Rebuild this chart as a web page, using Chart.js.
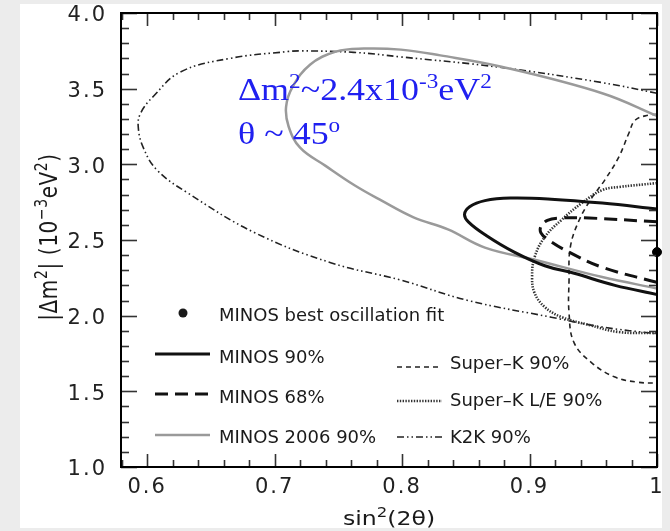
<!DOCTYPE html>
<html>
<head>
<meta charset="utf-8">
<title>MINOS allowed regions</title>
<script src="https://cdn.jsdelivr.net/npm/chart.js@4.4.1/dist/chart.umd.min.js"></script>
<style>
  body { margin: 0; background: #ececec; }
  canvas { display: block; }
</style>
</head>
<body>
<canvas id="chart" width="670" height="531"></canvas>
<script>
// contour points: x = sin^2(2theta), y = |dm^2| in 1e-3 eV^2
const k2kX = [1.0, 0.957, 0.878, 0.799, 0.762, 0.72, 0.71, 0.665, 0.626, 0.605, 0.595, 0.593, 0.597, 0.608, 0.632, 0.684, 0.744, 0.799, 0.852, 0.917, 0.957, 1.0];
const k2kY = [3.47, 3.54, 3.64, 3.71, 3.74, 3.75, 3.745, 3.70, 3.61, 3.45, 3.34, 3.25, 3.11, 2.96, 2.81, 2.55, 2.35, 2.235, 2.10, 1.99, 1.925, 1.88];

const minos2006X = [1.0, 0.957, 0.878, 0.83, 0.799, 0.77, 0.748, 0.728, 0.714, 0.709, 0.711, 0.72, 0.74, 0.763, 0.784, 0.809, 0.836, 0.865, 0.904, 0.957, 1.0];
const minos2006Y = [3.32, 3.47, 3.645, 3.72, 3.758, 3.765, 3.745, 3.66, 3.51, 3.38, 3.25, 3.11, 2.99, 2.86, 2.76, 2.65, 2.57, 2.45, 2.37, 2.255, 2.18];

const minos90X = [1.0, 0.957, 0.917, 0.885, 0.865, 0.853, 0.849, 0.852, 0.866, 0.888, 0.912, 0.935, 0.967, 1.0];
const minos90Y = [2.705, 2.744, 2.77, 2.777, 2.76, 2.72, 2.67, 2.62, 2.53, 2.42, 2.33, 2.28, 2.20, 2.14];

const minos68X = [1.0, 0.947, 0.923, 0.914, 0.909, 0.909, 0.915, 0.931, 0.957, 1.0];
const minos68Y = [2.62, 2.645, 2.645, 2.63, 2.59, 2.546, 2.50, 2.42, 2.32, 2.22];

const superKX = [1.0, 0.994, 0.983, 0.978, 0.970, 0.959, 0.949, 0.939, 0.932, 0.931, 0.931, 0.935, 0.949, 0.967, 0.985, 1.0];
const superKY = [3.33, 3.326, 3.293, 3.207, 3.048, 2.896, 2.78, 2.632, 2.453, 2.235, 2.017, 1.82, 1.687, 1.594, 1.56, 1.554];

const superKLEX = [1.0, 0.970, 0.957, 0.941, 0.925, 0.912, 0.904, 0.902, 0.904, 0.912, 0.925, 0.947, 0.970, 1.0];
const superKLEY = [2.876, 2.85, 2.83, 2.744, 2.632, 2.52, 2.387, 2.255, 2.149, 2.057, 1.991, 1.938, 1.892, 1.885];

const bestFitX = [1.0];
const bestFitY = [2.42];

const xTickVals = [0.6, 0.7, 0.8, 0.9, 1.0];
const xTickLabels = ['0.6', '0.7', '0.8', '0.9', '1'];
const yTickVals = [1.0, 1.5, 2.0, 2.5, 3.0, 3.5, 4.0];
const yTickLabels = ['1.0', '1.5', '2.0', '2.5', '3.0', '3.5', '4.0'];

const toPoints = (xs, ys) => xs.map((x, i) => ({ x, y: ys[i] }));

/**
 * contour dataset, drawn as a smooth line with no points
 */
const contour = (label, xs, ys, color, width, dash) => ({
  label,
  data: toPoints(xs, ys),
  showLine: true,
  borderColor: color,
  borderWidth: width,
  borderDash: dash,
  pointRadius: 0,
  tension: 0.4,
  fill: false
});

// first dataset is drawn on top
const datasets = [
  {
    label: 'MINOS best oscillation fit',
    data: toPoints(bestFitX, bestFitY),
    pointRadius: 4.5,
    backgroundColor: '#000',
    borderColor: '#000',
    clip: false
  },
  contour('MINOS 68%', minos68X, minos68Y, '#111', 3, [13, 7]),
  contour('MINOS 90%', minos90X, minos90Y, '#111', 3, []),
  contour('MINOS 2006 90%', minos2006X, minos2006Y, '#9a9a9a', 2.5, []),
  contour('Super\u2013K 90%', superKX, superKY, '#222', 1.6, [5, 4]),
  contour('Super\u2013K L/E 90%', superKLEX, superKLEY, '#333', 2.6, [1.4, 1.4]),
  contour('K2K 90%', k2kX, k2kY, '#222', 1.6, [7, 3, 1.5, 3, 1.5, 3])
];

// legend slots inside the frame: [dataset label, sample x0, sample x1, line y, text x, text baseline]
const legendSlots = [
  ['MINOS 90%', 155, 210, 354, 219, 363],
  ['MINOS 68%', 155, 210, 394, 219, 403],
  ['MINOS 2006 90%', 155, 210, 435, 219, 443],
  ['Super\u2013K 90%', 397, 442, 367, 450, 369],
  ['Super\u2013K L/E 90%', 397, 442, 401, 450, 406],
  ['K2K 90%', 397, 442, 437, 450, 443]
];

const measureRuns = (ctx, runs, fonts) =>
  runs.reduce((w, [text, sup]) => {
    ctx.font = sup ? fonts.sup : fonts.main;
    return w + ctx.measureText(text).width;
  }, 0);

// draws text runs with superscripts, starting at (0, 0) on the baseline
const drawRuns = (ctx, runs, fonts, rise) => {
  let cx = 0;
  runs.forEach(([text, sup]) => {
    ctx.font = sup ? fonts.sup : fonts.main;
    ctx.fillText(text, cx, sup ? -rise : 0);
    cx += ctx.measureText(text).width;
  });
};

// inward tick marks on all four sides of the frame
const drawFrameTicks = (ctx, area, xScale, yScale) => {
  ctx.save();
  ctx.setLineDash([]);
  ctx.strokeStyle = '#333333';
  ctx.lineWidth = 1.6;
  for (let k = 29; k <= 50; k++) {
    const px = Math.round(xScale.getPixelForValue(k / 50)) + 0.5;
    const len = k % 5 === 0 ? 13 : 7;
    ctx.beginPath();
    ctx.moveTo(px, area.bottom);
    ctx.lineTo(px, area.bottom - len);
    ctx.stroke();
    ctx.beginPath();
    ctx.moveTo(px, area.top);
    ctx.lineTo(px, area.top + len);
    ctx.stroke();
  }
  for (let k = 10; k <= 40; k++) {
    const py = Math.round(yScale.getPixelForValue(k / 10)) + 0.5;
    const len = k % 5 === 0 ? 16 : 8;
    ctx.beginPath();
    ctx.moveTo(area.left, py);
    ctx.lineTo(area.left + len, py);
    ctx.stroke();
    ctx.beginPath();
    ctx.moveTo(area.right, py);
    ctx.lineTo(area.right - len, py);
    ctx.stroke();
  }
  ctx.restore();
};

const decorations = {
  id: 'decorations',
  beforeDraw(chart) {
    const { ctx } = chart;
    ctx.save();
    ctx.fillStyle = '#ffffff';
    ctx.fillRect(20, 4, 642, 524);
    ctx.restore();
    // the tick labels of the original are widely spaced
    ctx.letterSpacing = '2px';
  },
  beforeDatasetsDraw(chart) {
    chart.ctx.letterSpacing = '0px';
  },
  afterDraw(chart) {
    const { ctx, chartArea: area, scales } = chart;

    drawFrameTicks(ctx, area, scales.x, scales.y);

    ctx.save();
    // frame
    ctx.strokeStyle = '#000';
    ctx.lineWidth = 2;
    ctx.strokeRect(area.left, area.top, area.width, area.height);

    // legend
    ctx.fillStyle = '#1a1a1a';
    ctx.font = '18px "DejaVu Sans"';
    ctx.textBaseline = 'alphabetic';
    ctx.beginPath();
    ctx.arc(183, 313, 4.5, 0, Math.PI * 2);
    ctx.fill();
    ctx.fillText(datasets[0].label, 219, 321);
    legendSlots.forEach(([label, x0, x1, ly, tx, ty]) => {
      const ds = datasets.find(d => d.label === label);
      ctx.strokeStyle = ds.borderColor;
      ctx.lineWidth = ds.borderWidth;
      ctx.setLineDash(ds.borderDash);
      ctx.beginPath();
      ctx.moveTo(x0, ly);
      ctx.lineTo(x1, ly);
      ctx.stroke();
      ctx.setLineDash([]);
      ctx.fillStyle = '#1a1a1a';
      ctx.font = '18px "DejaVu Sans"';
      ctx.fillText(label, tx, ty);
    });

    // blue annotation
    const serif = { main: '31px "Liberation Serif"', sup: '20px "Liberation Serif"' };
    ctx.fillStyle = '#2020f0';
    ctx.save();
    ctx.translate(238, 100);
    ctx.scale(1.16, 1);
    drawRuns(ctx, [['\u0394m', 0], ['2', 1], ['~2.4x10', 0], ['-3', 1], ['eV', 0], ['2', 1]], serif, 12);
    ctx.restore();
    ctx.save();
    ctx.translate(238, 144);
    ctx.scale(1.16, 1);
    drawRuns(ctx, [['\u03b8 ~ 45', 0], ['o', 1]], serif, 12);
    ctx.restore();

    // axis titles
    const sans = { main: '20px "DejaVu Sans"', sup: '14px "DejaVu Sans"' };
    ctx.fillStyle = '#1a1a1a';
    const xRuns = [['sin', 0], ['2', 1], ['(2\u03b8)', 0]];
    const xw = measureRuns(ctx, xRuns, sans) * 1.18;
    ctx.save();
    ctx.translate((area.left + area.right) / 2 - xw / 2, 525);
    ctx.scale(1.18, 1);
    drawRuns(ctx, xRuns, sans, 8);
    ctx.restore();

    const yRuns = [['|\u0394m', 0], ['2', 1], ['| (10', 0], ['\u22123', 1], ['eV', 0], ['2', 1], [')', 0]];
    ctx.letterSpacing = '0.6px';
    const yw = measureRuns(ctx, yRuns, sans);
    ctx.save();
    ctx.translate(57, 237);
    ctx.scale(1.2, 1);
    ctx.rotate(-Math.PI / 2);
    ctx.translate(-yw / 2, 0);
    drawRuns(ctx, yRuns, sans, 8);
    ctx.restore();
    ctx.letterSpacing = '0px';

    ctx.restore();
  }
};

// small line height keeps the label overflow from pushing the frame down
const tickFont = { family: 'DejaVu Sans', size: 21, lineHeight: 0.6 };

new Chart(document.getElementById('chart'), {
  type: 'scatter',
  data: { datasets },
  options: {
    responsive: false,
    animation: false,
    events: [],
    layout: { padding: { top: 13, right: 13, left: 0, bottom: 0 } },
    plugins: {
      legend: { display: false },
      tooltip: { enabled: false }
    },
    scales: {
      x: {
        type: 'linear',
        min: 0.5795,
        max: 1.0,
        grid: { display: false },
        border: { display: false },
        afterBuildTicks: scale => {
          scale.ticks = xTickVals.map(value => ({ value }));
        },
        afterFit: scale => {
          scale.height = 64;
        },
        ticks: {
          font: { family: 'DejaVu Sans', size: 21 },
          color: '#222',
          padding: 0,
          maxRotation: 0,
          autoSkip: false,
          callback: (value, i) => xTickLabels[i]
        }
      },
      y: {
        type: 'linear',
        min: 1.0,
        max: 4.0,
        grid: { display: false },
        border: { display: false },
        afterBuildTicks: scale => {
          scale.ticks = yTickVals.map(value => ({ value }));
        },
        afterFit: scale => {
          scale.width = 121;
        },
        ticks: {
          font: tickFont,
          color: '#222',
          padding: 6,
          labelOffset: 3,
          autoSkip: false,
          callback: (value, i) => yTickLabels[i]
        }
      }
    }
  },
  plugins: [decorations]
});
</script>
</body>
</html>
